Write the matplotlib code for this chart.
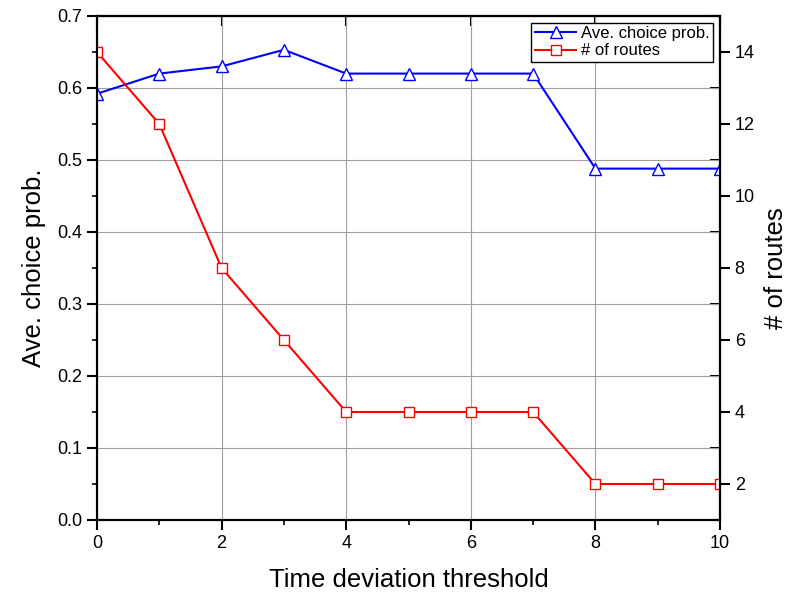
import matplotlib.pyplot as plt
from matplotlib.ticker import MultipleLocator
import numpy as np

plt.rcParams['font.family'] = ['Liberation Sans', 'DejaVu Sans']

# data
threshold = [0, 1, 2, 3, 4, 5, 6, 7, 8, 9, 10]
choice_prob = [0.592, 0.620, 0.630, 0.653, 0.620, 0.620, 0.620, 0.620, 0.488, 0.488, 0.488]
n_routes = [14, 12, 8, 6, 4, 4, 4, 4, 2, 2, 2]

fig = plt.figure(figsize=(7.91, 6.01), dpi=100)
ax1 = fig.add_axes([0.1226, 0.1348, 0.7877, 0.8386])
ax2 = ax1.twinx()

l1, = ax1.plot(threshold, choice_prob, color='blue', marker='^', markersize=9,
               markerfacecolor='white', markeredgecolor='blue', markeredgewidth=1,
               lw=1.5, label='Ave. choice prob.')
l2, = ax2.plot(threshold, n_routes, color='red', marker='s', markersize=7,
               markerfacecolor='white', markeredgecolor='red', markeredgewidth=1,
               lw=1.5, label='# of routes')

ax1.set_xlim(0, 10)
ax1.set_ylim(0, 0.7)
ax2.set_ylim(1, 15)

ax1.xaxis.set_major_locator(MultipleLocator(2))
ax1.xaxis.set_minor_locator(MultipleLocator(1))
ax1.yaxis.set_major_locator(MultipleLocator(0.1))
ax1.yaxis.set_minor_locator(MultipleLocator(0.05))
ax2.yaxis.set_major_locator(MultipleLocator(2))
ax2.yaxis.set_minor_locator(MultipleLocator(1))
ax1.yaxis.set_major_formatter(plt.FuncFormatter(lambda v, p: '%.1f' % v))

ax1.grid(True, which='major', color='#a0a0a0', lw=0.8)
ax1.set_axisbelow(True)

ax1.tick_params(which='major', direction='out', length=7, width=1.5, labelsize=13)
ax1.tick_params(which='minor', direction='out', length=3.5, width=1.2)
ax2.tick_params(which='major', direction='out', length=7, width=1.5, labelsize=13)
ax2.tick_params(which='minor', direction='out', length=0)

# mirrored inward ticks on top and right
top = ax1.secondary_xaxis('top')
top.xaxis.set_major_locator(MultipleLocator(2))
top.tick_params(direction='in', length=7, width=1.5, labeltop=False)
right = ax1.secondary_yaxis('right')
right.yaxis.set_major_locator(MultipleLocator(0.1))
right.tick_params(direction='in', length=7, width=1.5, labelright=False)

for a in (ax1, ax2, top, right):
    for s in a.spines.values():
        s.set_linewidth(1.5)

ax1.set_xlabel('Time deviation threshold', fontsize=18.5, labelpad=12)
ax1.set_ylabel('Ave. choice prob.', fontsize=18.5, labelpad=8)
ax2.set_ylabel('# of routes', fontsize=18.5, labelpad=7)

leg = ax2.legend(handles=[l1, l2], loc='upper right', fontsize=12,
                 fancybox=False, edgecolor='black', framealpha=1,
                 borderaxespad=0.4, handlelength=2.5, borderpad=0.2,
                 labelspacing=0.15, handletextpad=0.3)
leg.get_frame().set_linewidth(1.0)

fig.savefig('out.png', dpi=100)
